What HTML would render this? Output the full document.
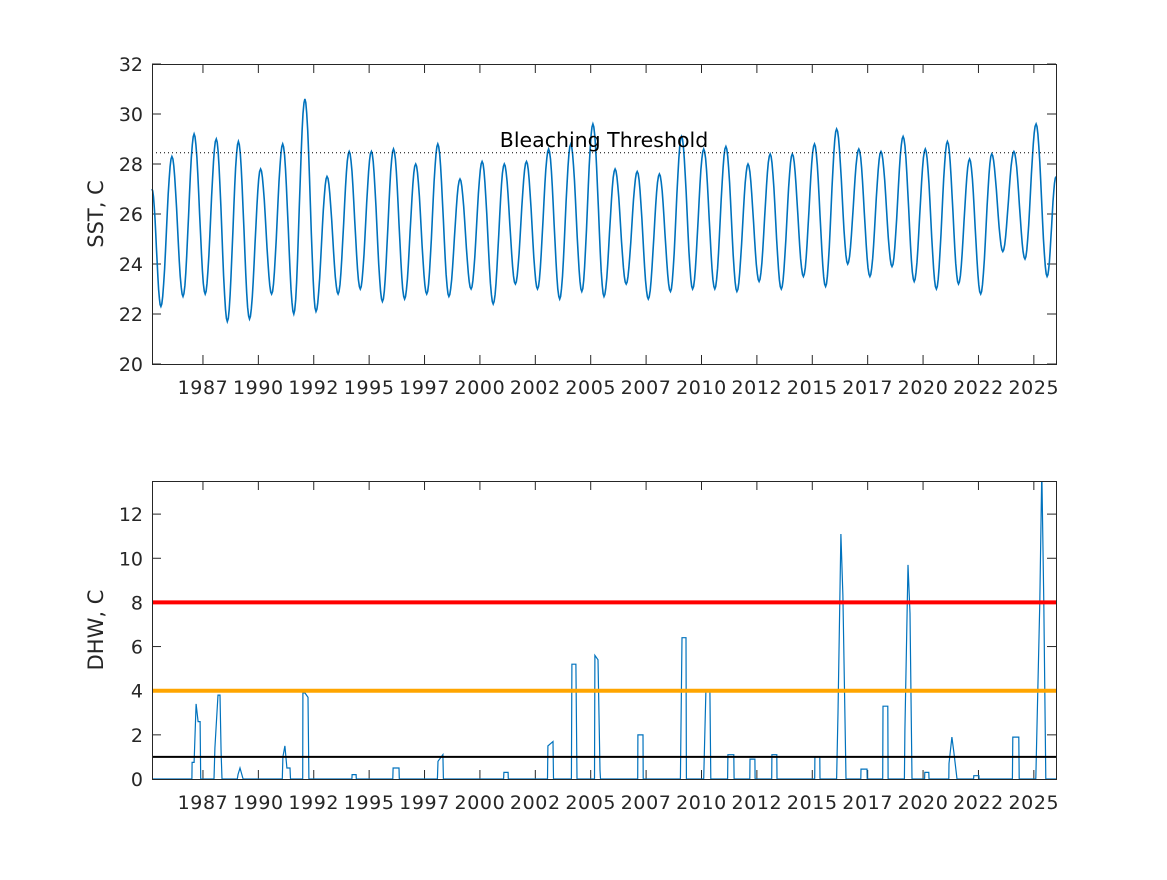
<!DOCTYPE html>
<html><head><meta charset="utf-8"><style>
body{margin:0;background:#fff;}
svg text{font-family:"DejaVu Sans","Liberation Sans",sans-serif;fill:#262626;}
</style></head><body>
<svg id="chart" width="1167" height="875" viewBox="0 0 1167 875" xmlns="http://www.w3.org/2000/svg">
<rect width="1167" height="875" fill="#fff"/>
</svg>
<script>
// ----- data -----
const xTickYears = [1987,1989.5,1992,1994.5,1997,1999.5,2002,2004.5,2007,2009.5,2012,2014.5,2017,2019.5,2022,2024.5];
const xTickLabels = ["1987","1990","1992","1995","1997","2000","2002","2005","2007","2010","2012","2015","2017","2020","2022","2025"];
const sstTicks = [20,22,24,26,28,30,32];
const dhwTicks = [0,2,4,6,8,10,12];
const sstPeaks = [28.3,29.2,29.0,28.9,27.8,28.8,30.6,27.5,28.5,28.5,28.6,28.0,28.8,27.4,28.1,28.0,28.1,28.6,28.8,29.6,27.8,27.7,27.6,29.1,28.6,28.7,28.0,28.4,28.4,28.8,29.4,28.6,28.5,29.1,28.6,28.9,28.2,28.4,28.5,29.6];
const sstTroughs = [22.3,22.7,22.8,21.7,21.8,22.8,22.0,22.1,22.8,23.0,22.5,22.6,22.8,22.7,23.0,22.4,23.2,23.0,22.6,22.9,22.7,23.2,22.6,22.9,23.0,23.0,22.9,23.3,23.0,23.5,23.1,24.0,23.5,23.9,23.3,23.0,23.2,22.8,24.5,24.2,23.5];
const sstStart = 27.0, sstEnd = 27.5;
const bleachThreshold = 28.45;
const dhwYears = [1984.7,1986.5,1986.51,1986.6,1986.69,1986.78,1986.87,1986.9,1987.5,1987.54,1987.6,1987.68,1987.77,1987.82,1987.86,1988.55,1988.58,1988.67,1988.81,1990.58,1990.61,1990.7,1990.79,1990.93,1990.95,1991.5,1991.51,1991.6,1991.74,1991.78,1993.72,1993.73,1993.91,1993.92,1995.57,1995.58,1995.85,1995.86,1997.58,1997.61,1997.83,1997.85,2000.57,2000.58,2000.77,2000.78,2002.55,2002.57,2002.8,2002.82,2003.63,2003.65,2003.83,2003.88,2004.67,2004.69,2004.83,2004.92,2004.94,2006.62,2006.63,2006.86,2006.87,2008.55,2008.62,2008.8,2008.82,2009.6,2009.7,2009.88,2009.92,2010.68,2010.69,2010.96,2010.97,2011.68,2011.69,2011.91,2011.92,2012.67,2012.68,2012.9,2012.91,2014.61,2014.62,2014.84,2014.85,2015.6,2015.66,2015.79,2015.88,2016.02,2016.69,2016.7,2016.97,2016.98,2017.68,2017.69,2017.91,2017.92,2018.66,2018.68,2018.82,2018.91,2019.0,2019.57,2019.58,2019.76,2019.77,2020.66,2020.67,2020.8,2020.89,2021.03,2021.78,2021.79,2022.02,2022.03,2023.53,2023.55,2023.82,2023.84,2024.59,2024.77,2024.86,2024.95,2025.04,2025.5];
const dhwValues = [0,0,0.75,0.75,3.4,2.6,2.6,0,0,1.4,2.5,3.8,3.8,1.2,0,0,0.2,0.5,0,0,1.0,1.5,0.5,0.5,0,0,3.9,3.9,3.7,0,0,0.2,0.2,0,0,0.5,0.5,0,0,0.8,1.1,0,0,0.3,0.3,0,0,1.5,1.7,0,0,5.2,5.2,0,0,5.6,5.4,0.4,0,0,2.0,2.0,0,0,6.4,6.4,0,0,4.0,4.0,0,0,1.1,1.1,0,0,0.9,0.9,0,0,1.1,1.1,0,0,1.0,1.0,0,0,3.0,11.1,8.3,0,0,0.45,0.45,0,0,3.3,3.3,0,0,2.2,9.7,7.5,0,0,0.3,0.3,0,0,0.7,1.9,1.2,0,0,0.15,0.15,0,0,1.9,1.9,0,0,8.0,14.0,8.0,0,0];
const dhwRefLines = [1,4,8];
const dhwRefColors = ["#000000","#FFA500","#FF0000"];

// ----- axes -----
const X0=152,X1=1056,T0=1984.7,T1=2025.5;
const xs=t=>X0+(t-T0)/(T1-T0)*(X1-X0);
const TOP={y0:64,y1:364,v0:20,v1:32};
const BOT={y0:481,y1:779,v0:0,v1:13.5};
const ys=(ax,v)=>ax.y1-(v-ax.v0)/(ax.v1-ax.v0)*(ax.y1-ax.y0);
const svg=document.getElementById('chart');
const NS='http://www.w3.org/2000/svg';
function mk(tag,attrs,parent){const e=document.createElementNS(NS,tag);for(const k in attrs)e.setAttribute(k,attrs[k]);(parent||svg).appendChild(e);return e;}

function drawAxes(ax,ticks,label,name){
  const g=mk('g',{});
  
  
  xTickLabels.forEach((lab,i)=>{
    const x=xs(xTickYears[i]);
    mk('line',{x1:x,x2:x,y1:ax.y1,y2:ax.y1-9,stroke:'#262626','stroke-width':1},g);
    mk('line',{x1:x,x2:x,y1:ax.y0,y2:ax.y0+9,stroke:'#262626','stroke-width':1},g);
    const t=mk('text',{x:x,y:ax.y1+30,'text-anchor':'middle','font-size':'19','letter-spacing':'0.6'},g);
    t.textContent=lab;
    
    
  });
  ticks.forEach(v=>{
    const y=ys(ax,v);
    mk('line',{x1:X0,x2:X0+9,y1:y,y2:y,stroke:'#262626','stroke-width':1},g);
    mk('line',{x1:X1,x2:X1-9,y1:y,y2:y,stroke:'#262626','stroke-width':1},g);
    const t=mk('text',{x:X0-9,y:y+7,'text-anchor':'end','font-size':'19'},g);
    t.textContent=String(v);
    
    
  });
  const cy=(ax.y0+ax.y1)/2;
  const yl=mk('text',{x:103,y:cy,'text-anchor':'middle','font-size':'21',transform:`rotate(-90 103 ${cy})`},g);
  yl.textContent=label;
  
  
  return g;
}
function drawBox(ax){
  const b=mk('rect',{x:X0+0.5,y:ax.y0+0.5,width:X1-X0,height:ax.y1-ax.y0,fill:'none',stroke:'#262626','stroke-width':1});
  
  
}

// top
drawAxes(TOP,sstTicks,'SST, C','sst');
const ext=[[T0,sstStart]];
for(let k=0;k<sstTroughs.length;k++){
  ext.push([1985.1+k,sstTroughs[k]]);
  if(k<sstPeaks.length) ext.push([1985.6+k,sstPeaks[k]]);
}
ext.push([T1,sstEnd]);
let d='';
for(let i=0;i<ext.length-1;i++){
  const [ta,va]=ext[i],[tb,vb]=ext[i+1];
  const n=12;
  for(let j=(i?1:0);j<=n;j++){
    const f=j/n,w=(1-Math.cos(Math.PI*f))/2;
    const t=ta+(tb-ta)*f,v=va+(vb-va)*w;
    d+=(d?'L':'M')+xs(t).toFixed(1)+','+ys(TOP,v).toFixed(1);
  }
}
const sl=mk('path',{d:d,fill:'none',stroke:'#0072BD','stroke-width':1.6});


const th=mk('line',{x1:X0,x2:X1,y1:ys(TOP,bleachThreshold),y2:ys(TOP,bleachThreshold),stroke:'#000','stroke-width':1,'stroke-dasharray':'1 3'});


const tl=mk('text',{x:604,y:ys(TOP,bleachThreshold)-6,'text-anchor':'middle','font-size':'20.5',style:'fill:#000'});
tl.textContent='Bleaching Threshold';


drawBox(TOP);

// bottom
drawAxes(BOT,dhwTicks,'DHW, C','dhw');
const clip=mk('clipPath',{id:'bc'});
mk('rect',{x:X0,y:BOT.y0,width:X1-X0,height:BOT.y1-BOT.y0},clip);
let d2='';
dhwYears.forEach((t,i)=>{d2+=(i?'L':'M')+xs(t).toFixed(1)+','+ys(BOT,dhwValues[i]).toFixed(1);});
const dl=mk('path',{d:d2,fill:'none',stroke:'#0072BD','stroke-width':1.2,'clip-path':'url(#bc)'});


dhwRefLines.forEach((v,i)=>{
  const l=mk('line',{x1:X0,x2:X1,y1:ys(BOT,v),y2:ys(BOT,v),stroke:dhwRefColors[i],'stroke-width':i?4:2});
  
  
});
drawBox(BOT);
</script>
</body></html>
